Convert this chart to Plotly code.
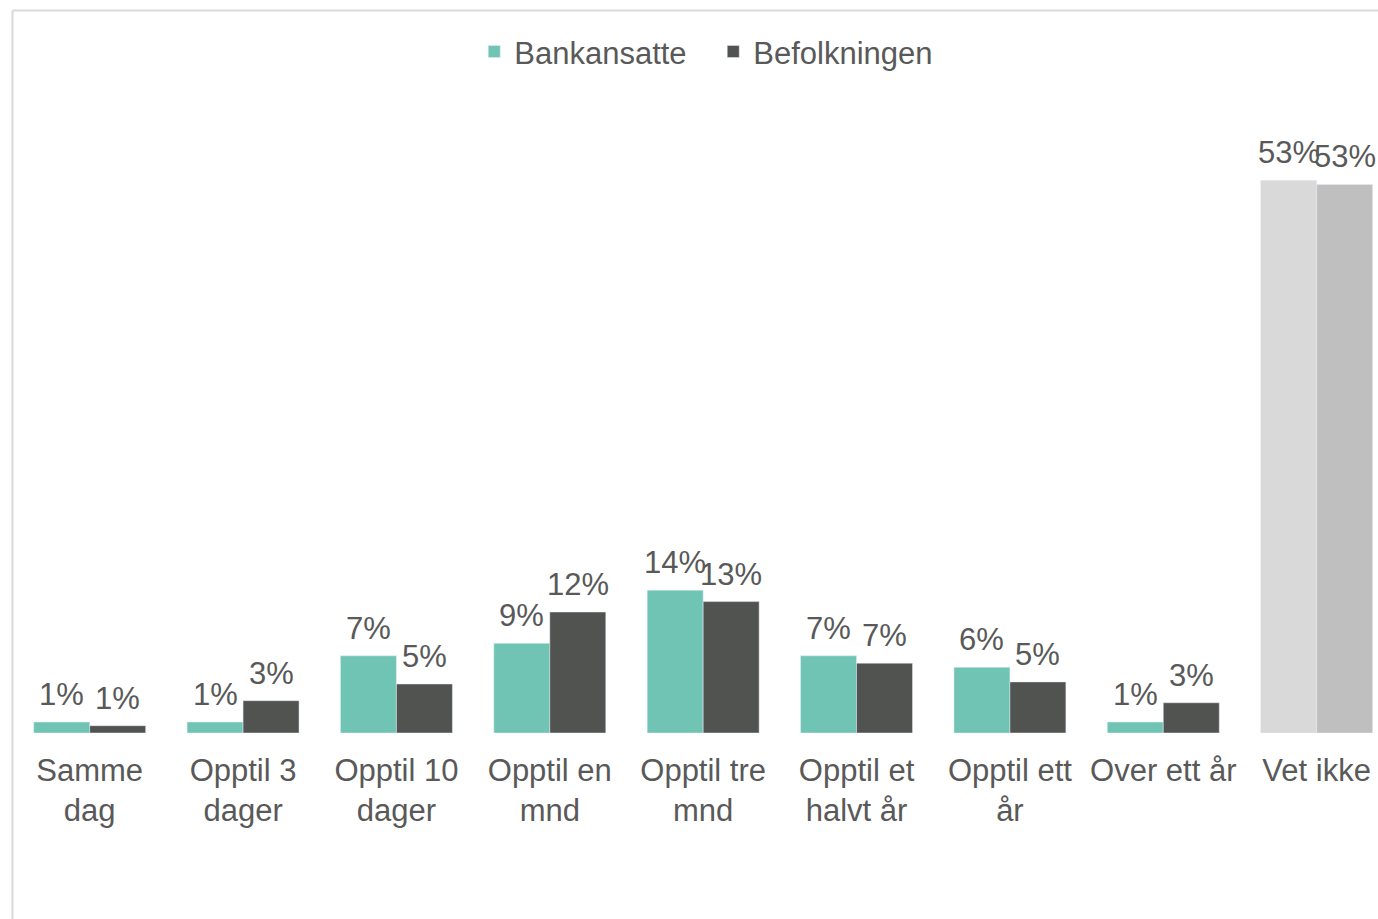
import plotly.graph_objects as go

categories = ["Samme<br>dag", "Opptil 3<br>dager", "Opptil 10<br>dager", "Opptil en<br>mnd",
              "Opptil tre<br>mnd", "Opptil et<br>halvt år", "Opptil ett<br>år", "Over ett år", "Vet ikke"]
bankansatte = [1.05, 1.05, 7.4, 8.6, 13.7, 7.4, 6.3, 1.05, 53.0]
befolkningen = [0.7, 3.1, 4.7, 11.6, 12.6, 6.7, 4.9, 2.9, 52.6]

TEAL = "#70c4b4"
DARK = "#515350"
GREY1 = "#d9d9d9"
GREY2 = "#bfbfbf"
TXT = "#595959"
FONT = "Liberation Sans, Arial, sans-serif"
FS = 31
BARGAP = 0.27

xs = list(range(len(categories)))
bank_colors = [TEAL] * (len(categories) - 1) + [GREY1]
bef_colors = [DARK] * (len(categories) - 1) + [GREY2]

fig = go.Figure()
fig.add_trace(go.Bar(name="Bankansatte", x=xs, y=bankansatte, marker=dict(color=bank_colors)))
fig.add_trace(go.Bar(name="Befolkningen", x=xs, y=befolkningen, marker=dict(color=bef_colors)))

# value labels above each bar, offset to the bar's slot within the group
half = (1 - BARGAP) / 4
annotations = []
for vals, off in ((bankansatte, -half), (befolkningen, half)):
    for x, v in zip(xs, vals):
        annotations.append(dict(x=x + off, y=v, xref="x", yref="y", text=f"{round(v)}%",
                                showarrow=False, yanchor="bottom", yshift=8,
                                font=dict(size=FS, color=TXT)))

fig.update_layout(
    width=1378, height=919,
    margin=dict(l=13, r=0, t=100, b=186),
    paper_bgcolor="white", plot_bgcolor="white",
    font=dict(family=FONT, color=TXT, size=FS),
    barmode="group", bargap=BARGAP, bargroupgap=0,
    showlegend=True,
    legend=dict(orientation="h", x=0.513, xanchor="center", y=1.076, yanchor="middle",
                font=dict(size=FS, color=TXT), traceorder="normal", entrywidth=194),
    xaxis=dict(tickmode="array", tickvals=xs, ticktext=categories,
               range=[-0.5, 8.4], showgrid=False, zeroline=False, showline=False,
               ticks="", tickfont=dict(size=FS, color=TXT), ticklabelstandoff=16),
    yaxis=dict(range=[0, 60.7], visible=False),
    annotations=annotations,
    shapes=[
        dict(type="line", xref="paper", yref="paper", x0=-0.0004, x1=-0.0004, y0=1.1414, y1=-0.3,
             line=dict(color="#d9d9d9", width=2)),
        dict(type="line", xref="paper", yref="paper", x0=-0.0004, x1=1.01, y0=1.1414, y1=1.1414,
             line=dict(color="#d9d9d9", width=2)),
    ],
)

fig.write_html("out.html", config={"displayModeBar": False},
               post_script="document.body.style.margin='0';")
